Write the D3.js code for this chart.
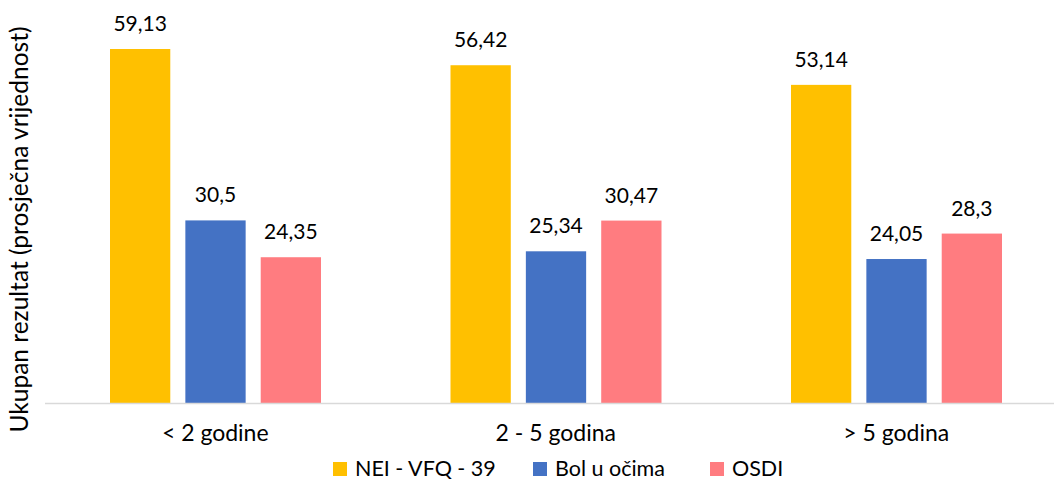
<!DOCTYPE html>
<html><head><meta charset="utf-8">
<script src="https://cdn.jsdelivr.net/npm/d3@7"></script>
<style>body{margin:0;background:#fff}svg{display:block}text{font-family:Lato,"Open Sans",sans-serif;fill:#000}</style>
</head><body><svg id="c" width="1054" height="479"></svg>
<script>
const categories = ["< 2 godine", "2 - 5 godina", "> 5 godina"];
const seriesNames = ["NEI - VFQ - 39", "Bol u očima", "OSDI"];
const nei = [59.13, 56.42, 53.14];
const bol = [30.5, 25.34, 24.05];
const osdi = [24.35, 30.47, 28.3];
const labels = [["59,13","56,42","53,14"],["30,5","25,34","24,05"],["24,35","30,47","28,3"]];
const colors = ["#FFC000", "#4472C4", "#FF7C80"];
const yTitle = "Ukupan rezultat (prosječna vrijednost)";

const series = [nei, bol, osdi];
const svg = d3.select("#c");
const x0 = d3.scaleBand().domain(categories).range([45, 1066.5]);
const x1 = d3.scaleBand().domain(seriesNames).range([65, 276]).paddingInner(0.2);
const y = d3.scaleLinear().domain([0, 60]).range([403, 43.8]);

const g = svg.append("g");
categories.forEach((c, ci) => {
  seriesNames.forEach((s, si) => {
    const v = series[si][ci];
    const bx = x0(c) + x1(s);
    g.append("rect").attr("x", bx).attr("y", y(v)).attr("width", x1.bandwidth())
      .attr("height", y(0) - y(v)).attr("fill", colors[si]);
    g.append("text").attr("x", bx + x1.bandwidth()/2).attr("y", y(v) - 18)
      .attr("text-anchor", "middle").attr("font-size", 21).text(labels[si][ci]);
  });
  svg.append("text").attr("x", x0(c) + x0.bandwidth()/2).attr("y", 441)
    .attr("text-anchor", "middle").attr("font-size", 23).text(c);
});
svg.append("line").attr("x1", 45).attr("x2", 1054).attr("y1", 403.5).attr("y2", 403.5)
  .attr("stroke", "#d9d9d9").attr("stroke-width", 1.5);

svg.append("text").attr("transform", "translate(28,229.5) rotate(-90)")
  .attr("text-anchor", "middle").attr("font-size", 24.5).text(yTitle);

const legX = [333, 533, 710];
seriesNames.forEach((s, i) => {
  svg.append("rect").attr("x", legX[i]).attr("y", 462).attr("width", 14).attr("height", 14).attr("fill", colors[i]);
  svg.append("text").attr("x", legX[i] + 22).attr("y", 475.5).attr("font-size", 21.5).text(s);
});
</script></body></html>
